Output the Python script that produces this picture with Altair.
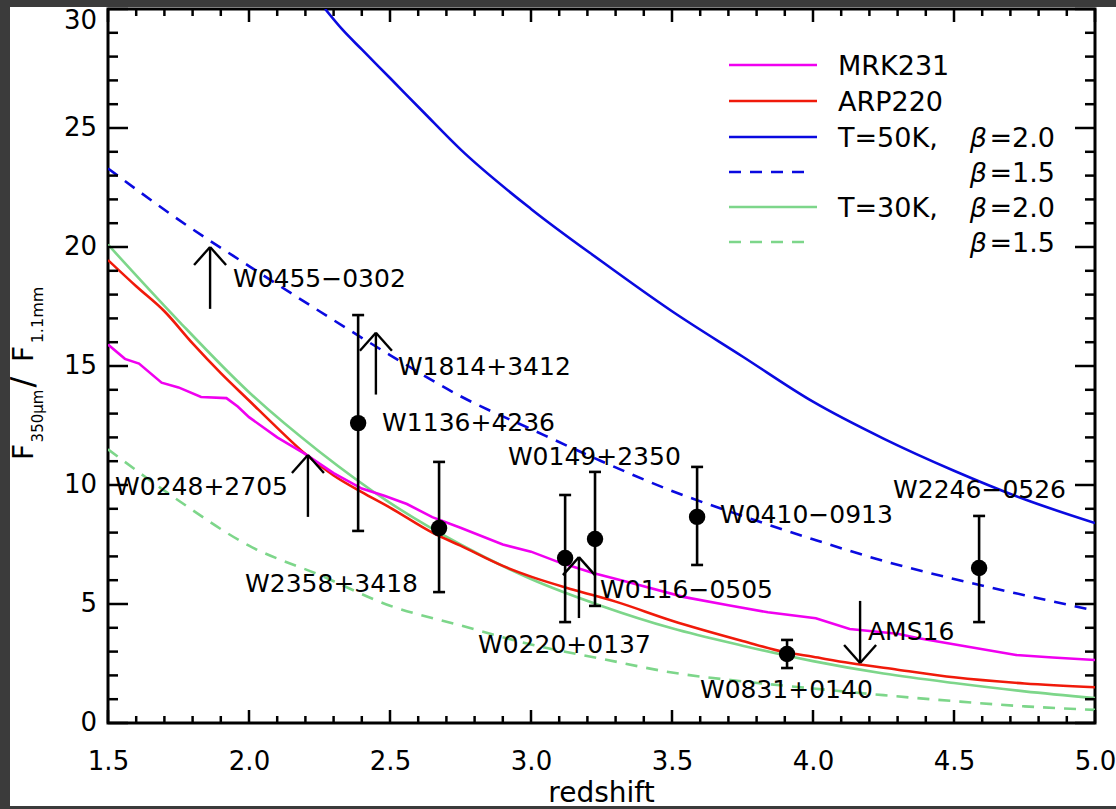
import altair as alt
import pandas as pd

# ---------------- data ----------------
mrk231_z = [1.50, 1.56, 1.61, 1.69, 1.75, 1.83, 1.92, 1.96, 2.00, 2.10, 2.20, 2.30, 2.40, 2.48,
            2.56, 2.65, 2.75, 2.90, 3.00, 3.10, 3.22, 3.35, 3.54, 3.70, 3.84, 4.01, 4.13, 4.30,
            4.37, 4.55, 4.72, 4.85, 5.00]
mrk231_r = [15.9, 15.3, 15.1, 14.3, 14.1, 13.7, 13.65, 13.3, 12.85, 12.0, 11.3, 10.5, 9.85, 9.55,
            9.2, 8.65, 8.2, 7.5, 7.2, 6.75, 6.3, 5.9, 5.3, 4.95, 4.65, 4.4, 3.95, 3.75,
            3.57, 3.2, 2.86, 2.75, 2.65]

arp220_z = [1.5, 1.6, 1.7, 1.8, 1.9, 2.0, 2.1, 2.2, 2.3, 2.4, 2.5, 2.65, 2.75, 2.9, 3.0, 3.15,
            3.3, 3.5, 3.75, 3.9, 4.0, 4.13, 4.3, 4.5, 4.75, 5.0]
arp220_r = [19.45, 18.35, 17.3, 15.95, 14.7, 13.55, 12.4, 11.3, 10.4, 9.7, 9.05, 8.0, 7.45, 6.6,
            6.15, 5.6, 5.1, 4.3, 3.45, 2.98, 2.78, 2.52, 2.24, 1.92, 1.66, 1.5]

t50_b20_z = [2.27, 2.33, 2.4, 2.5, 2.62, 2.75, 3.0, 3.25, 3.5, 3.75, 4.0, 4.25, 4.5, 4.75, 5.0]
t50_b20_r = [30.0, 29.15, 28.3, 27.1, 25.65, 24.1, 21.6, 19.4, 17.3, 15.4, 13.5, 11.95, 10.6, 9.4, 8.4]

grid_z = [1.5, 1.75, 2.0, 2.25, 2.5, 2.75, 3.0, 3.25, 3.5, 3.75, 4.0, 4.25, 4.5, 4.75, 5.0]
t50_b15_r = [23.3, 21.15, 19.2, 17.3, 15.46, 13.73, 12.35, 11.0, 9.75, 8.7, 7.72, 6.81, 6.05, 5.37, 4.72]
t30_b20_r = [20.1, 16.9, 13.9, 11.4, 9.25, 7.5, 6.05, 4.92, 3.98, 3.25, 2.6, 2.08, 1.68, 1.33, 1.05]
t30_b15_r = [11.5, 9.35, 7.45, 6.22, 4.93, 4.1, 3.3, 2.7, 2.12, 1.75, 1.45, 1.17, 0.92, 0.7, 0.55]

# detections with error bars
det_name = ["W1136+4236", "W2358+3418", "W0220+0137", "W0149+2350", "W0410−0913", "W0831+0140", "W2246−0526"]
det_z = [2.387, 2.674, 3.121, 3.227, 3.589, 3.908, 4.589]
det_r = [12.6, 8.19, 6.93, 7.73, 8.66, 2.9, 6.51]
det_lo = [8.07, 5.5, 4.24, 4.92, 6.64, 2.31, 4.24]
det_hi = [17.14, 10.97, 9.58, 10.55, 10.76, 3.49, 8.7]

# lower limits (upward arrows)
low_name = ["W0455−0302", "W1814+3412", "W0248+2705", "W0116−0505"]
low_z = [1.862, 2.45, 2.209, 3.17]
low_r = [17.4, 13.8, 8.66, 4.41]
low_tip = [20.0, 16.4, 11.26, 6.97]

# upper limit (downward arrow)
up_name = ["AMS16"]
up_z = [4.167]
up_r = [5.13]
up_tip = [2.52]

# source labels
lab_text = ["W0455−0302", "W1814+3412", "W1136+4236", "W0149+2350", "W0248+2705", "W0410−0913",
            "W2246−0526", "W2358+3418", "W0116−0505", "W0220+0137", "AMS16", "W0831+0140"]
lab_z = [1.943, 2.528, 2.472, 2.918, 1.525, 3.670, 4.284, 1.986, 3.245, 2.812, 4.195, 3.599]
lab_r = [18.66, 14.96, 12.6, 11.18, 9.92, 8.74, 9.79, 5.84, 5.59, 3.28, 3.82, 1.39]

x_major = [1.5, 2.0, 2.5, 3.0, 3.5, 4.0, 4.5, 5.0]
x_minor = [round(1.5 + 0.1 * i, 1) for i in range(36) if i % 5 != 0]
y_major = [0, 5, 10, 15, 20, 25, 30]
y_minor = [i for i in range(31) if i % 5 != 0]

legend_label = ["MRK231", "ARP220", "T=50K,", "", "T=30K,", ""]
legend_beta = ["", "", "=2.0", "=1.5", "=2.0", "=1.5"]

# ---------------- styling / layout ----------------
W, H = 987, 714
FONT = "DejaVu Sans"
MAG, RED, BLUE, GREEN = "#f000f0", "#f01a0a", "#0a0ae0", "#7dd68a"
DASH = [12, 9]
GRAY = "#3b3b3b"

xs = alt.Scale(domain=[1.5, 5.0], nice=False, zero=False)
ys = alt.Scale(domain=[0, 30], nice=False, zero=False)
xaxis = alt.Axis(values=x_major, format=".1f", title=None, ticks=False, tickSize=0, domain=False,
                 grid=False, labelFont=FONT, labelFontSize=26, labelColor="black",
                 labelPadding=25, labelFlush=False)
yaxis = alt.Axis(values=y_major, title=None, ticks=False, tickSize=0, domain=False,
                 grid=False, labels=False)


def X(f="z"):
    return alt.X(f"{f}:Q", scale=xs, axis=xaxis)


def Y(f="r"):
    return alt.Y(f"{f}:Q", scale=ys, axis=yaxis)


one = pd.DataFrame({"k": [0]})
layers = []


def curve(z, r, color, dash=None, interp="linear"):
    kw = dict(color=color, strokeWidth=2.6, clip=True, interpolate=interp)
    if dash:
        kw["strokeDash"] = dash
    return alt.Chart(pd.DataFrame({"z": z, "r": r})).mark_line(**kw).encode(x=X(), y=Y())


layers += [
    curve(grid_z, t30_b15_r, GREEN, DASH, "monotone"),
    curve(grid_z, t30_b20_r, GREEN, None, "monotone"),
    curve(grid_z, t50_b15_r, BLUE, DASH, "monotone"),
    curve(t50_b20_z, t50_b20_r, BLUE, None, "monotone"),
    curve(arp220_z, arp220_r, RED, None, "monotone"),
    curve(mrk231_z, mrk231_r, MAG, None, "linear"),
]

# ticks (inward, on all four sides)
def xticks(vals, length):
    df = pd.DataFrame({"z": vals})
    bot = alt.Chart(df).mark_rule(color="black", strokeWidth=2.5).encode(
        x=X(), y=alt.value(H), y2=alt.value(H - length))
    top = alt.Chart(df).mark_rule(color="black", strokeWidth=2.5).encode(
        x=X(), y=alt.value(0), y2=alt.value(length))
    return [bot, top]


def yticks(vals, length):
    df = pd.DataFrame({"r": vals})
    left = alt.Chart(df).mark_rule(color="black", strokeWidth=2.5).encode(
        y=Y(), x=alt.value(0), x2=alt.value(length))
    right = alt.Chart(df).mark_rule(color="black", strokeWidth=2.5).encode(
        y=Y(), x=alt.value(W), x2=alt.value(W - length))
    return [left, right]


layers += xticks(x_major, 13) + xticks(x_minor, 7) + yticks(y_major, 20) + yticks(y_minor, 10)

# y tick labels (the top one sits a little lower, inside the page)
ylab = pd.DataFrame({"r": y_major, "t": [str(v) for v in y_major]})
layers.append(alt.Chart(ylab[ylab.r < 30]).mark_text(align="right", baseline="middle", font=FONT,
                                                     fontSize=26, color="black").encode(
    y=Y(), x=alt.value(-11), text="t:N"))
layers.append(alt.Chart(ylab[ylab.r == 30]).mark_text(align="right", baseline="middle", font=FONT,
                                                      fontSize=26, color="black", yOffset=12).encode(
    y=Y(), x=alt.value(-11), text="t:N"))

# detections
det = pd.DataFrame({"z": det_z, "r": det_r, "lo": det_lo, "hi": det_hi, "name": det_name})
layers.append(alt.Chart(det).mark_rule(color="black", strokeWidth=2.6).encode(
    x=X(), y=Y("lo"), y2="hi:Q"))
for f in ["lo", "hi"]:
    layers.append(alt.Chart(det).mark_rule(color="black", strokeWidth=2.6, xOffset=-6, x2Offset=6).encode(
        x=X(), x2="z:Q", y=Y(f)))
layers.append(alt.Chart(det).mark_circle(color="black", size=270, opacity=1).encode(x=X(), y=Y()))

# arrows
low = pd.DataFrame({"z": low_z, "r": low_r, "tip": low_tip})
up = pd.DataFrame({"z": up_z, "r": up_r, "tip": up_tip})
for df, dy in [(low, 18), (up, -18)]:
    layers.append(alt.Chart(df).mark_rule(color="black", strokeWidth=2.4).encode(
        x=X(), y=Y("r"), y2="tip:Q"))
    for dx in (-16, 16):
        layers.append(alt.Chart(df).mark_rule(color="black", strokeWidth=2.4, x2Offset=dx, y2Offset=dy).encode(
            x=X(), x2="z:Q", y=Y("tip"), y2="tip:Q"))

# labels
lab = pd.DataFrame({"z": lab_z, "r": lab_r, "t": lab_text})
layers.append(alt.Chart(lab).mark_text(align="left", baseline="middle", font=FONT, fontSize=25,
                                       color="black").encode(x=X(), y=Y(), text="t:N"))

# legend
leg_rows = [56, 92, 128, 163, 198, 233]
leg_color = [MAG, RED, BLUE, BLUE, GREEN, GREEN]
leg_dash = [None, None, None, DASH, None, DASH]
for i in range(6):
    kw = dict(color=leg_color[i], strokeWidth=2.6)
    x2 = 709
    if leg_dash[i]:
        kw["strokeDash"] = leg_dash[i]
        x2 = 699
    layers.append(alt.Chart(one).mark_rule(**kw).encode(
        x=alt.value(621), x2=alt.value(x2), y=alt.value(leg_rows[i])))
    if legend_label[i]:
        layers.append(alt.Chart(one).mark_text(align="left", baseline="middle", font=FONT, fontSize=27,
                                               color="black").encode(
            x=alt.value(730), y=alt.value(leg_rows[i] + 2), text=alt.value(legend_label[i])))
    if legend_beta[i]:
        layers.append(alt.Chart(one).mark_text(align="right", baseline="middle", font=FONT, fontSize=27,
                                               color="black").encode(
            x=alt.value(947), y=alt.value(leg_rows[i] + 2), text=alt.value(legend_beta[i])))
        layers.append(alt.Chart(one).mark_text(align="right", baseline="middle", font=FONT, fontSize=27,
                                               fontStyle="italic", color="black").encode(
            x=alt.value(879), y=alt.value(leg_rows[i] + 2), text=alt.value("β")))

# axis titles
layers.append(alt.Chart(one).mark_text(align="center", baseline="alphabetic", font=FONT, fontSize=28,
                                       color="black").encode(
    x=alt.value(W / 2), y=alt.value(793), text=alt.value("redshift")))
ytitle_parts = [("F", 28, 443, -75), ("350μm", 15, 407, -65), ("/", 32, 373, -75),
                ("F", 28, 345, -75), ("1.1mm", 16, 306, -65)]
for txt, fs, yy, xx in ytitle_parts:
    layers.append(alt.Chart(one).mark_text(align="center", baseline="alphabetic", font=FONT, fontSize=fs,
                                           angle=270, color="black").encode(
        x=alt.value(xx), y=alt.value(yy), text=alt.value(txt)))

# dark frame around the page
for (x0, x1, y0, y1) in [(-108, 1008, -9, -2), (-108, -98, -9, 800), (-108, 1008, 797, 800)]:
    layers.append(alt.Chart(one).mark_rect(color=GRAY).encode(
        x=alt.value(x0), x2=alt.value(x1), y=alt.value(y0), y2=alt.value(y1)))

chart = alt.layer(*layers).properties(
    width=W, height=H,
    padding={"left": 108, "top": 9, "right": 21, "bottom": 86},
    autosize=alt.AutoSizeParams(type="none"),
    background="white",
).configure_view(stroke="black", strokeWidth=3)

chart.save("out.html", embed_options={"renderer": "svg", "actions": False})
